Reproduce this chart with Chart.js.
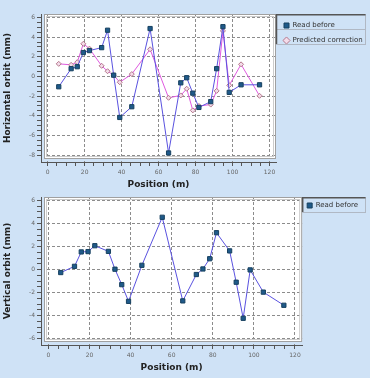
<!DOCTYPE html>
<html>
<head>
<meta charset="utf-8">
<script src="https://cdn.jsdelivr.net/npm/chart.js@4.4.0/dist/chart.umd.min.js"></script>
<style>
    body { margin: 0; background: #cfe2f6; }
    .panel { position: relative; width: 370px; }
    .plot-bg { position: absolute; background: #ffffff; z-index: 0; }
    canvas { display: block; position: relative; z-index: 1; }
</style>
</head>
<body>
<div class="panel"><div class="plot-bg" id="h-bg"></div><canvas id="horizontal-orbit" width="370" height="190"></canvas></div>
<div class="panel"><div class="plot-bg" id="v-bg"></div><canvas id="vertical-orbit" width="370" height="188"></canvas></div>
<script>
// BPM positions along the line (m)
var positions = [6, 12.7, 16, 19.3, 22.6, 29.2, 32.4, 35.7, 39, 45.5, 55.4, 65.4, 72, 75.2, 78.5, 81.8, 88.2, 91.4, 94.8, 98.2, 104.6, 114.6];

// horizontal orbit (mm)
var hReadBefore = [-1.05, 0.79, 0.99, 2.43, 2.63, 2.93, 4.7, 0.13, -4.17, -3.08, 4.87, -7.78, -0.65, -0.13, -1.7, -3.15, -2.56, 0.79, 5.06, -1.62, -0.85, -0.85];
var hPredicted = [1.28, 1.18, 1.45, 3.32, 2.83, 1.08, 0.53, 0.13, -0.59, 0.24, 2.76, -2.17, -1.93, -1.25, -3.45, -3.0, -2.86, -1.47, 4.63, -0.9, 1.23, -1.97];

// vertical orbit (mm)
var vReadBefore = [-0.26, 0.28, 1.53, 1.56, 2.07, 1.58, 0.03, -1.31, -2.76, 0.37, 4.54, -2.72, -0.43, 0.05, 0.94, 3.2, 1.62, -1.1, -4.23, -0.03, -1.96, -3.1];

var xTicks = [0, 20, 40, 60, 80, 100, 120];
var hTicks = [-8, -6, -4, -2, 0, 2, 4, 6];
var vTicks = [-6, -4, -2, 0, 2, 4, 6];

var BG = "#cfe2f6";
var GAP = 3; // space between the axis lines and the plot box

Chart.defaults.font.family = "'DejaVu Sans', sans-serif";
Chart.defaults.animation = false;

function toPoints(xs, ys) {
    return xs.map(function (x, i) { return { x: x, y: ys[i] }; });
}

// minor ticks between the labelled ones
function withMinor(major, step) {
    var out = [];
    for (var i = 0; i < major.length - 1; i++) {
        for (var v = major[i]; v < major[i + 1] - 1e-9; v += step) out.push(Math.round(v * 100) / 100);
    }
    out.push(major[major.length - 1]);
    return out;
}

function isMajor(list, v) {
    return list.indexOf(v) !== -1;
}

var frame = {
    id: "frame",
    beforeDraw: function (chart) {
        var a = chart.chartArea;
        var ctx = chart.ctx;
        ctx.save();
        ctx.fillStyle = "#ffffff";
        ctx.fillRect(a.left + GAP, a.top, a.right - a.left - GAP, a.bottom - a.top - GAP);
        ctx.restore();
    },
    beforeDatasetsDraw: function (chart) {
        var a = chart.chartArea;
        var ctx = chart.ctx;
        ctx.save();
        // keep the grid out of the gap next to the axis lines
        ctx.fillStyle = BG;
        ctx.fillRect(a.left + 1, a.top, GAP - 1, a.bottom - a.top - 1);
        ctx.fillRect(a.left + 1, a.bottom - GAP, a.right - a.left - 1, GAP - 1);
        var l = a.left + GAP, b = a.bottom - GAP;
        ctx.strokeStyle = "#a0a0a0";
        ctx.lineWidth = 1;
        ctx.strokeRect(l + 0.5, a.top + 0.5, a.right - l - 1, b - a.top - 1);
        ctx.strokeStyle = "#cccccc";
        ctx.strokeRect(l + 2.5, a.top + 2.5, a.right - l - 5, b - a.top - 5);
        ctx.restore();
    },
    afterDraw: function (chart) {
        var lg = chart.legend;
        var boxes = lg.legendHitBoxes;
        if (!boxes || !boxes.length) return;
        var ctx = chart.ctx;
        var left = lg.left + 0.5;
        var right = lg.right - 2.5;
        var rowH = 15;
        ctx.save();
        ctx.strokeStyle = "#b0b8c4";
        ctx.lineWidth = 1;
        for (var i = 0; i < boxes.length; i++) {
            ctx.strokeRect(left, lg.top + 0.5 + i * rowH, right - left, rowH);
        }
        ctx.strokeStyle = "#555";
        ctx.lineWidth = 1.5;
        ctx.beginPath();
        ctx.moveTo(left, lg.top + boxes.length * rowH);
        ctx.lineTo(left, lg.top + 0.75);
        ctx.lineTo(right, lg.top + 0.75);
        ctx.stroke();
        ctx.restore();
    }
};

function makeOptions(yTitle, yMin, yMax, yMajor, padTop, padBottom, legendPad) {
    return {
        responsive: false,
        layout: { padding: { top: padTop, bottom: padBottom, left: 0, right: 2 } },
        plugins: {
            legend: {
                position: "right",
                align: "start",
                labels: {
                    usePointStyle: true,
                    boxWidth: 5,
                    boxHeight: 5,
                    padding: legendPad,
                    color: "#333",
                    font: { size: 7 }
                }
            },
            tooltip: { enabled: false }
        },
        scales: {
            x: {
                type: "linear",
                min: -3.6,
                max: 123.5,
                afterBuildTicks: function (scale) {
                    scale.ticks = withMinor(xTicks, 5).map(function (v) { return { value: v }; });
                },
                ticks: {
                    autoSkip: false,
                    maxRotation: 0,
                    padding: 3,
                    color: "#666",
                    font: { size: 6 },
                    callback: function (v) { return isMajor(xTicks, v) ? v : ""; }
                },
                grid: {
                    tickLength: 4,
                    tickColor: "#555",
                    color: function (c) { return c.tick && isMajor(xTicks, c.tick.value) ? "#8c8c8c" : "transparent"; }
                },
                border: { color: "#555", width: 1, dash: [3, 2] },
                title: {
                    display: true,
                    text: "Position (m)",
                    color: "#222",
                    padding: 0,
                    font: { size: 9, weight: "bold" }
                }
            },
            y: {
                min: yMin,
                max: yMax,
                afterFit: function (scale) { scale.width = 41; },
                afterBuildTicks: function (scale) {
                    scale.ticks = withMinor(yMajor, 0.5).map(function (v) { return { value: v }; });
                },
                ticks: {
                    autoSkip: false,
                    padding: 2,
                    color: "#666",
                    font: { size: 6 },
                    callback: function (v) { return isMajor(yMajor, v) ? v : ""; }
                },
                grid: {
                    tickLength: 4,
                    tickColor: "#555",
                    color: function (c) { return c.tick && isMajor(yMajor, c.tick.value) ? "#8c8c8c" : "transparent"; }
                },
                border: { color: "#555", width: 1, dash: [3, 2] },
                title: {
                    display: true,
                    text: yTitle,
                    color: "#222",
                    padding: 2,
                    font: { size: 9, weight: "bold" }
                }
            }
        }
    };
}

var readStyle = {
    borderColor: "#5a52e0",
    borderWidth: 1,
    backgroundColor: "#1f5a8a",
    pointStyle: "rect",
    pointRadius: 3,
    pointBorderColor: "#17405f",
    pointBorderWidth: 1,
    tension: 0
};

// white plot box behind the (transparent) canvas
function placeBackground(chart, id) {
    var a = chart.chartArea;
    var el = document.getElementById(id);
    el.style.left = (a.left + GAP) + "px";
    el.style.top = a.top + "px";
    el.style.width = (a.right - a.left - GAP) + "px";
    el.style.height = (a.bottom - a.top - GAP) + "px";
}

var hChart = new Chart(document.getElementById("horizontal-orbit").getContext("2d"), {
    type: "line",
    data: {
        datasets: [
            Object.assign({ label: "Read before", data: toPoints(positions, hReadBefore) }, readStyle),
            {
                label: "Predicted correction",
                data: toPoints(positions, hPredicted),
                borderColor: "#e05ae0",
                borderWidth: 1,
                backgroundColor: "#f4dcea",
                pointStyle: "rectRot",
                pointRadius: 2.5,
                pointBorderColor: "#b4788c",
                pointBorderWidth: 1,
                tension: 0
            }
        ]
    },
    options: makeOptions("Horizontal orbit (mm)", -8.7, 6.35, hTicks, 14, 0, 8),
    plugins: [frame]
});
placeBackground(hChart, "h-bg");

var vChart = new Chart(document.getElementById("vertical-orbit").getContext("2d"), {
    type: "line",
    data: {
        datasets: [
            Object.assign({ label: "Read before", data: toPoints(positions, vReadBefore) }, readStyle)
        ]
    },
    options: makeOptions("Vertical orbit (mm)", -6.55, 6.3, vTicks, 7, 5, 5),
    plugins: [frame]
});
placeBackground(vChart, "v-bg");
</script>
</body>
</html>
